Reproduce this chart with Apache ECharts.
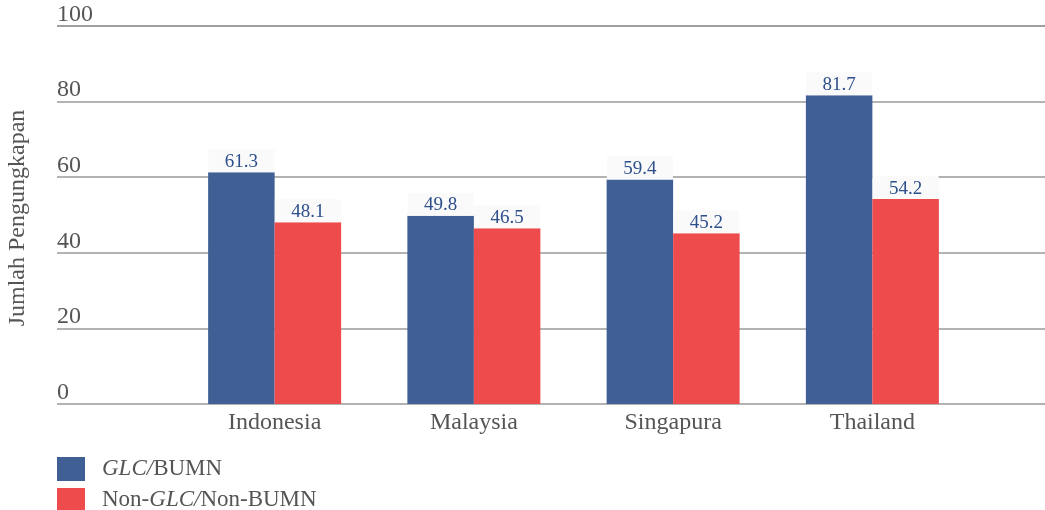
<!DOCTYPE html>
<html>
<head>
<meta charset="utf-8">
<script src="https://cdn.jsdelivr.net/npm/echarts@6/dist/echarts.min.js"></script>
<style>
  html, body { margin: 0; padding: 0; background: #ffffff; }
  #chart { width: 1045px; height: 510px; }
</style>
</head>
<body>
<div id="chart"></div>
<script>
// Data
const countries = ['Indonesia', 'Malaysia', 'Singapura', 'Thailand'];
const glcValues = [61.3, 49.8, 59.4, 81.7];
const nonGlcValues = [48.1, 46.5, 45.2, 54.2];
const seriesNames = ['GLC/BUMN', 'Non-GLC/Non-BUMN'];
const yTitle = 'Jumlah Pengungkapan';

const SERIF = "'Liberation Serif', 'DejaVu Serif', serif";
const TEXT_GRAY = '#555555';
const BLUE = '#405F95';
const RED = '#EE4B4D';
const LABEL_BLUE = '#2D4F8B';

const chart = echarts.init(document.getElementById('chart'), null, { renderer: 'canvas' });

const gridTop = 26;
const gridBottom = 106;

function valueLabel() {
  return {
    show: true,
    position: 'top',
    distance: 0,
    color: LABEL_BLUE,
    fontFamily: SERIF,
    fontSize: 19,
    lineHeight: 19,
    backgroundColor: '#fafafa',
    width: 66,
    align: 'center',
    padding: [3, 0, 1, 0]
  };
}

const option = {
  backgroundColor: '#ffffff',
  animation: false,
  grid: [
    // full-width grid carrying the horizontal rules and value ticks
    { left: 57, right: 0, top: gridTop, bottom: gridBottom },
    // bar grid
    { left: 175, right: 73, top: gridTop, bottom: gridBottom }
  ],
  xAxis: [
    { gridIndex: 0, type: 'value', show: false, min: 0, max: 1 },
    {
      gridIndex: 1,
      type: 'category',
      data: countries,
      axisLine: { show: false },
      axisTick: { show: false },
      axisLabel: {
        color: TEXT_GRAY,
        fontFamily: SERIF,
        fontSize: 24,
        margin: 7
      }
    }
  ],
  yAxis: [
    {
      gridIndex: 0,
      type: 'value',
      min: 0,
      max: 100,
      interval: 20,
      axisLine: { show: false },
      axisTick: { show: false },
      axisLabel: {
        inside: true,
        margin: 0,
        align: 'left',
        verticalAlign: 'bottom',
        lineHeight: 23,
        color: TEXT_GRAY,
        fontFamily: SERIF,
        fontSize: 24
      },
      splitLine: {
        show: true,
        lineStyle: {
          color: ['#b3b3b3', '#b3b3b3', '#b3b3b3', '#b3b3b3', '#b3b3b3', '#9f9f9f'],
          width: 2
        }
      }
    },
    {
      gridIndex: 1,
      type: 'value',
      min: 0,
      max: 100,
      interval: 20,
      show: false
    }
  ],
  legend: {
    orient: 'vertical',
    left: 57,
    top: 457,
    height: 70,
    padding: 0,
    itemWidth: 28,
    itemHeight: 24,
    itemGap: 7,
    icon: 'rect',
    data: seriesNames,
    formatter: function (name) {
      return name.replace('GLC/', '{i|GLC/}');
    },
    textStyle: {
      color: TEXT_GRAY,
      fontFamily: SERIF,
      fontSize: 23,
      padding: [0, 0, 0, 12],
      rich: {
        i: {
          fontStyle: 'italic',
          color: TEXT_GRAY,
          fontFamily: SERIF,
          fontSize: 23
        }
      }
    }
  },
  graphic: [
    {
      type: 'text',
      x: 18,
      y: 218,
      rotation: Math.PI / 2,
      style: {
        text: yTitle,
        fill: TEXT_GRAY,
        font: '24px ' + SERIF,
        textAlign: 'center',
        textVerticalAlign: 'middle'
      }
    }
  ],
  series: [
    {
      name: seriesNames[0],
      type: 'bar',
      xAxisIndex: 1,
      yAxisIndex: 1,
      data: glcValues,
      barWidth: 66.5,
      barGap: '0%',
      itemStyle: { color: BLUE },
      label: valueLabel(),
      z: 3
    },
    {
      name: seriesNames[1],
      type: 'bar',
      xAxisIndex: 1,
      yAxisIndex: 1,
      data: nonGlcValues,
      barWidth: 66.5,
      barGap: '0%',
      itemStyle: { color: RED },
      label: valueLabel(),
      z: 3
    }
  ]
};

chart.setOption(option);
</script>
</body>
</html>
